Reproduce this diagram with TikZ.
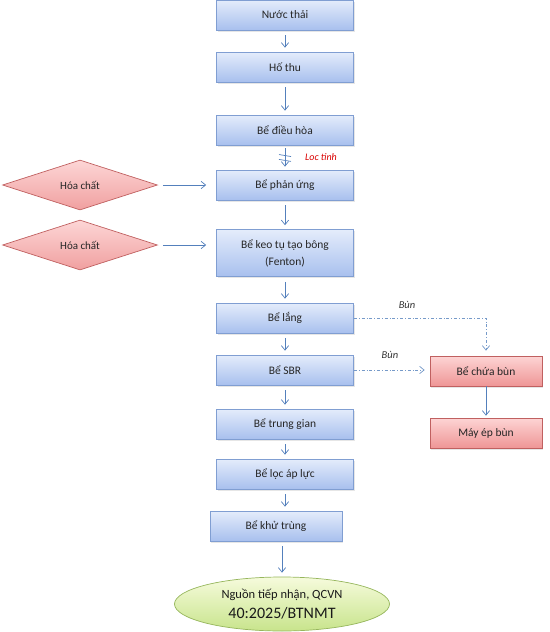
\documentclass[tikz,border=0pt]{standalone}
\usepackage{fontspec}
\setmainfont{Carlito}
\usetikzlibrary{
    arrows.meta,
    positioning,
    shapes.geometric,
    shadows
}
\definecolor{TankTop}{RGB}{228,236,251}
\definecolor{TankBot}{RGB}{168,192,238}
\definecolor{TankLine}{RGB}{128,158,210}
\definecolor{MudTop}{RGB}{253,212,212}
\definecolor{MudBot}{RGB}{238,150,150}
\definecolor{MudLine}{RGB}{192,96,96}
\definecolor{ChemTop}{RGB}{253,214,214}
\definecolor{ChemBot}{RGB}{240,160,160}
\definecolor{OutTop}{RGB}{246,251,220}
\definecolor{OutBot}{RGB}{200,228,140}
\definecolor{OutLine}{RGB}{150,182,92}
\definecolor{FlowBlue}{RGB}{84,128,188}
\tikzset{
  tank/.style    = {draw=TankLine, line width=0.7pt, top color=TankTop,
                    bottom color=TankBot, minimum width=137pt,
                    minimum height=30pt, align=center, inner sep=2pt,
                    font=\fontsize{11.5}{17}\selectfont, text=black!85,
                    drop shadow={opacity=0.2, shadow xshift=1pt, shadow yshift=-1.5pt}},
  mud/.style     = {tank, draw=MudLine, top color=MudTop, bottom color=MudBot,
                    minimum width=112pt},
  chem/.style    = {diamond, draw=MudLine, line width=0.7pt, top color=ChemTop,
                    bottom color=ChemBot, minimum width=155pt, minimum height=50pt,
                    inner sep=0pt, font=\fontsize{11}{13}\selectfont, text=black!85},
  outlet/.style  = {ellipse, draw=OutLine, line width=0.7pt, top color=OutTop,
                    bottom color=OutBot, minimum width=215pt, minimum height=54pt,
                    inner sep=0pt, align=center, text=black!90},
  arr/.style     = {-{Straight Barb[length=1.6mm,width=2.6mm]}, FlowBlue,
                    line width=0.7pt, shorten <=5pt, shorten >=4pt},
  arrc/.style    = {arr, shorten >=10pt},
  arrd/.style    = {-{Straight Barb[length=1.6mm,width=2.6mm]}, FlowBlue!80,
                    line width=0.7pt, dash dot, shorten >=5pt},
  tag/.style     = {font=\fontsize{10.5}{12}\selectfont\itshape, text=black!80}
}

\begin{document}
\begin{tikzpicture}[x=1pt,y=-1pt]
\useasboundingbox (0,0) rectangle (549,632);
\node[tank] (thai)   at (285,15)  {Nước thải};
\node[tank] (hothu)  at (285,67)  {Hố thu};
\node[tank] (dieuhoa) at (285,130) {Bể điều hòa};
\node[tank] (phanung) at (285,185) {Bể phản ứng};
\node[tank, minimum height=47pt] (keotu) at (285,253) {Bể keo tụ tạo bông\\(Fenton)};
\node[tank] (lang)   at (285,318) {Bể lắng};
\node[tank] (sbr)    at (285,370) {Bể SBR};
\node[tank] (trung)  at (285,424) {Bể trung gian};
\node[tank] (loc)    at (285,474) {Bể lọc áp lực};
\node[tank, minimum width=132pt] (khu) at (276,526) {Bể khử trùng};
\node[outlet] (nguon) at (282,604)
      {{\fontsize{12.5}{14}\selectfont Nguồn tiếp nhận, QCVN}\\[6pt]
       {\fontsize{16}{18}\selectfont 40:2025/BTNMT}};
\node[chem] (hc1) at (80,185) {Hóa chất};
\node[chem] (hc2) at (80,245) {Hóa chất};
\node[mud] (chua) at (486,371) {Bể chứa bùn};
\node[mud] (mayep) at (486,433) {Máy ép bùn};

\draw[arr] (thai) -- (hothu);
\draw[arr] (hothu) -- (dieuhoa);
\draw[arr, shorten <=3pt, shorten >=3pt] (dieuhoa) -- (phanung)
      coordinate[pos=0.42] (lt1) coordinate[pos=0.62] (lt2);
\draw[FlowBlue, line width=0.7pt] ([xshift=-6pt,yshift=1pt]lt1) -- ([xshift=6pt,yshift=-1pt]lt1);
\draw[FlowBlue, line width=0.7pt] ([xshift=-6pt,yshift=1pt]lt2) -- ([xshift=6pt,yshift=-1pt]lt2);
\node[tag, text=red!85!black, font=\fontsize{10}{12}\selectfont\itshape] (loctinh) at (321,157) {Loc tinh};
\draw[arr] (phanung) -- (keotu);
\draw[arr] (keotu) -- (lang);
\draw[arr] (lang) -- (sbr);
\draw[arr] (sbr) -- (trung);
\draw[arr] (trung) -- (loc);
\draw[arr] (loc.south) -- (loc.south |- khu.north);
\draw[arr] (nguon |- khu.south) -- (nguon.north);
\draw[arrc] (hc1) -- (hc1 -| phanung.west);
\draw[arrc] (hc2) -- (hc2 -| keotu.west);
\draw[arrd] (lang.east) -| (chua.north);
\draw[arrd] (sbr.east) -- (sbr.east -| chua.west);
\draw[arr, shorten <=0pt, shorten >=2pt] (chua) -- (mayep);
\node[tag] (bun1) at (407,305) {Bùn};
\node[tag] (bun2) at (390,355) {Bùn};
\end{tikzpicture}
\end{document}
